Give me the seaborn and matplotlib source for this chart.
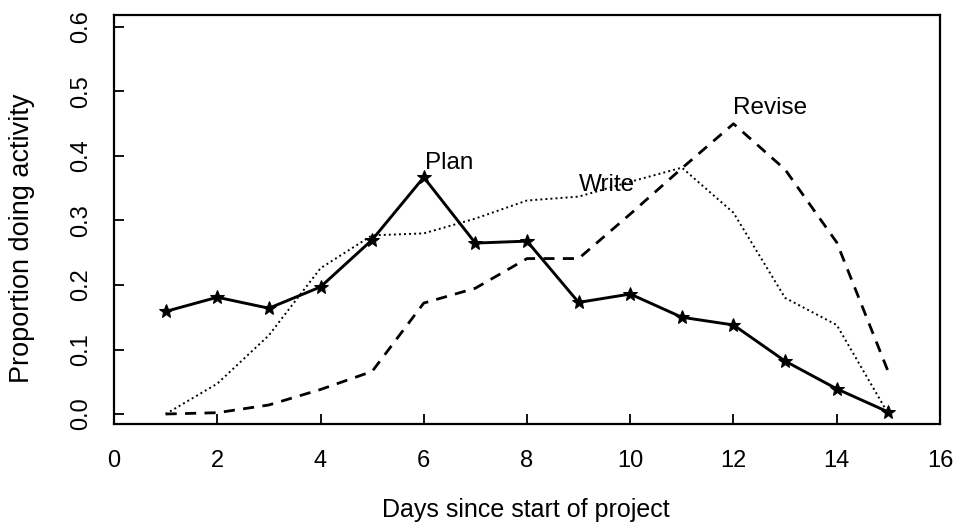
import matplotlib
matplotlib.use("Agg")
import matplotlib.pyplot as plt
import seaborn as sns
import pandas as pd

days = list(range(1, 16))
plan = [0.159, 0.181, 0.164, 0.197, 0.270, 0.367, 0.265, 0.268, 0.173, 0.186, 0.150, 0.138, 0.082, 0.039, 0.003]
write = [0.0, 0.047, 0.122, 0.226, 0.277, 0.280, 0.303, 0.331, 0.337, 0.360, 0.382, 0.312, 0.180, 0.138, 0.0]
revise = [0.0, 0.002, 0.014, 0.038, 0.066, 0.172, 0.195, 0.241, 0.241, 0.310, 0.381, 0.450, 0.379, 0.266, 0.065]

xticks = [2, 4, 6, 8, 10, 12, 14]
xticklabels = ["0", "2", "4", "6", "8", "10", "12", "14", "16"]
yticks = [0.0, 0.1, 0.2, 0.3, 0.4, 0.5, 0.6]
yticklabels = ["0.0", "0.1", "0.2", "0.3", "0.4", "0.5", "0.6"]

sns.set_style("ticks")
plt.rcParams['font.family'] = ['Liberation Sans', 'DejaVu Sans']
plt.rcParams['text.color'] = 'black'
plt.rcParams['axes.labelcolor'] = 'black'

df = pd.DataFrame({"day": days, "Plan": plan, "Write": write, "Revise": revise})

fig = plt.figure(figsize=(9.59, 5.27), dpi=100)
ax = fig.add_axes([114/959, 1 - 424/527, (940 - 114)/959, (424 - 15)/527])

sns.lineplot(data=df, x="day", y="Write", ax=ax, color="black", linewidth=1.4,
             linestyle=(0, (1, 1.6)))
sns.lineplot(data=df, x="day", y="Revise", ax=ax, color="black", linewidth=2.0,
             linestyle=(0, (4, 3)))
sns.lineplot(data=df, x="day", y="Plan", ax=ax, color="black", linewidth=2.1,
             marker="*", markersize=10, markeredgecolor="black", markerfacecolor="black")

ax.set_xlim(0, 16)
ax.set_ylim(-0.0155, 0.6186)
ax.set_xticks([0] + xticks + [16])
ax.set_xticklabels(xticklabels)
ax.set_yticks(yticks)
ax.set_yticklabels(yticklabels, rotation=90, va="center")
ax.tick_params(axis="both", direction="in", length=7, width=1.3, labelsize=17, colors="black")
ax.tick_params(axis="x", pad=19)
ax.tick_params(axis="y", pad=16)
# hide tick marks at the box edges (0 and 16)
xt = ax.xaxis.get_major_ticks()
xt[0].tick1line.set_visible(False)
xt[-1].tick1line.set_visible(False)

for s in ax.spines.values():
    s.set_visible(True)
    s.set_linewidth(1.6)
    s.set_color("black")

ax.set_xlabel("Days since start of project", fontsize=18)
ax.set_ylabel("Proportion doing activity", fontsize=19.5)
ax.xaxis.set_label_coords(0.499, -0.181)
ax.yaxis.set_label_coords(-0.096, 0.455)

ax.text(6.02, 0.372, "Plan", fontsize=17.5, ha="left", va="bottom")
ax.text(9.0, 0.338, "Write", fontsize=17.5, ha="left", va="bottom")
ax.text(12.0, 0.457, "Revise", fontsize=17.5, ha="left", va="bottom")

fig.savefig("out.png", dpi=100)
